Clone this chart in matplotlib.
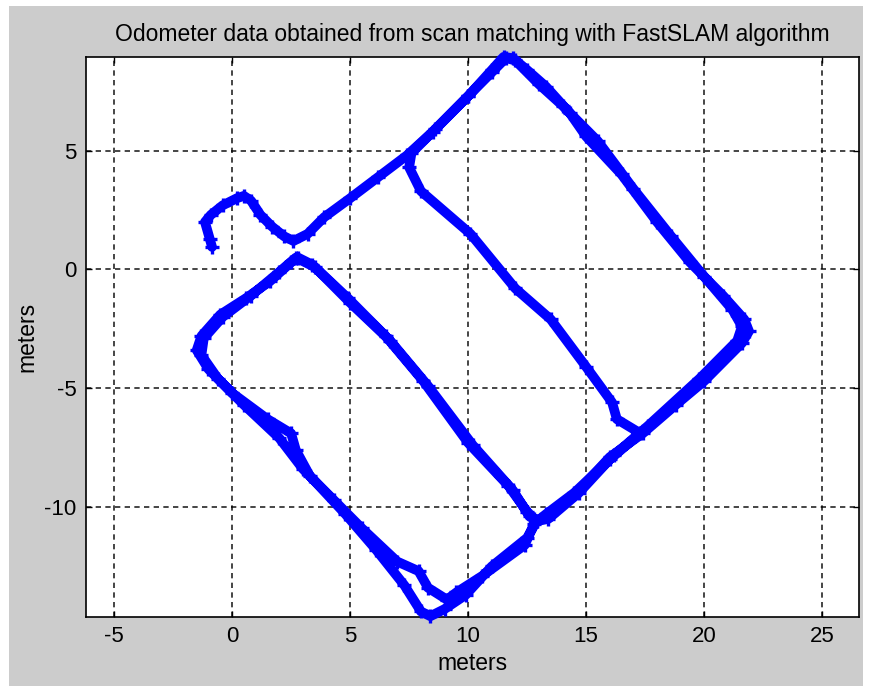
import matplotlib
matplotlib.use("Agg")
import matplotlib.pyplot as plt
from matplotlib.patches import Rectangle

# Trajectory estimated by scan matching (metres)
path_x = [
    # start and first pass up the north-west side
    -0.85, -0.95, -1.15, -0.9, -0.4, 0.2, 0.5, 0.8, 1.2, 1.7, 2.2, 2.6,
    3.2, 3.9, 5.0, 6.2, 7.4, 8.5, 10.0, 11.0, 11.5, 11.9,
    # north-east side, first pass
    12.5, 13.3, 14.3, 15.0, 16.5, 18.0, 19.4, 20.8, 21.7, 21.9, 21.6,
    # south-east side, first pass
    20.0, 18.8, 17.4, 16.0, 14.7, 13.5, 12.9, 12.5, 11.0, 9.9, 9.0, 8.4, 8.0,
    # south-west side, first pass
    7.3, 6.1, 4.8, 3.3, 2.7, 2.5, 1.5, 0.0, -1.0, -1.5, -1.3, -0.5, 0.6, 1.6, 2.5, 2.8, 3.4,
    # first middle corridor
    4.9, 6.5, 8.1, 10.0, 11.7, 12.5, 12.9, 13.4,
    14.7, 16.0, 17.3,
    # second middle corridor
    16.3, 16.1, 15.0, 13.5, 12.0, 10.1, 8.0, 7.5, 7.6,
    8.6, 10.0, 11.0, 11.6, 12.0,
    # north-east side, second pass
    13.0, 14.0, 15.5, 17.0, 18.6, 20.0, 21.2, 21.6, 21.4,
    # south-east side, second pass
    19.8, 17.6, 16.2, 14.5, 13.3, 12.8, 12.4, 10.6, 9.5, 9.1,
    # south-west side, second pass
    8.3, 7.9, 7.0, 5.5, 4.3, 3.0, 2.0, 0.5, -0.6, -1.3, -1.2, -0.4, 0.8, 2.0, 2.7, 3.5,
    # first middle corridor, second pass
    5.0, 6.7, 8.3, 10.2, 11.9, 12.6, 12.8,
]
path_y = [
    0.95, 1.3, 2.0, 2.3, 2.7, 3.0, 3.1, 2.9, 2.3, 1.8, 1.4, 1.2,
    1.5, 2.2, 3.0, 3.9, 4.8, 5.8, 7.3, 8.4, 8.95, 8.9,
    8.4, 7.7, 6.6, 5.6, 4.0, 2.0, 0.3, -1.1, -2.1, -2.6, -3.1,
    -4.7, -5.7, -6.9, -7.9, -9.3, -10.3, -10.6, -11.3, -12.5, -13.7, -14.3, -14.6, -14.4,
    -13.3, -11.8, -10.3, -8.7, -7.6, -6.9, -6.3, -5.2, -4.2, -3.4, -2.8, -1.9, -1.2, -0.5, 0.3, 0.5, 0.2,
    -1.2, -2.8, -4.7, -7.3, -9.1, -10.2, -10.6, -10.5,
    -9.4, -8.0, -6.9,
    -6.3, -5.6, -4.1, -2.1, -0.8, 1.5, 3.3, 4.3, 4.9,
    5.9, 7.3, 8.3, 8.9, 8.8,
    7.8, 6.9, 5.4, 3.4, 1.4, -0.3, -1.7, -2.4, -3.0,
    -4.6, -6.6, -7.8, -9.4, -10.3, -10.7, -11.6, -12.9, -13.6, -13.9,
    -13.4, -12.7, -12.3, -10.9, -9.7, -8.4, -7.1, -5.7, -4.6, -3.6, -2.9, -2.0, -1.1, -0.1, 0.5, 0.1,
    -1.4, -3.0, -4.9, -7.4, -9.3, -10.4, -10.5,
]

x_ticks = [-5, 0, 5, 10, 15, 20, 25]
y_ticks = [-10, -5, 0, 5]

plt.rcParams['font.family'] = ['Liberation Sans', 'DejaVu Sans']
plt.rcParams['axes.unicode_minus'] = False

fig = plt.figure(figsize=(8.75, 6.86), dpi=100, facecolor='white')
# grey figure panel
fig.patches.append(Rectangle((9 / 875, 0), (863 - 9) / 875, (686 - 6) / 686,
                             transform=fig.transFigure, facecolor='#cccccc',
                             edgecolor='none', zorder=-10))

ax = fig.add_axes([86 / 875, (686 - 616.7) / 686, (859 - 86) / 875, (616.7 - 56.7) / 686])
ax.set_facecolor('white')

ax.plot(path_x, path_y, color='#0000ff', lw=7, solid_joinstyle='round',
        solid_capstyle='round', marker='+', ms=10, mew=2.4, clip_on=False, zorder=3)

ax.set_xlim(-6.19, 26.56)
ax.set_ylim(-14.62, 8.96)
ax.set_xticks(x_ticks)
ax.set_yticks(y_ticks)
ax.grid(True, color='black', linestyle=(0, (3.2, 2.6)), lw=1.2, alpha=0.85)
ax.set_axisbelow(True)
ax.tick_params(direction='in', length=4, width=1, labelsize=16, pad=7,
               top=True, right=True, colors='black')
for s in ax.spines.values():
    s.set_linewidth(1.2)
    s.set_color('black')

ax.set_title('Odometer data obtained from scan matching with FastSLAM algorithm',
             fontsize=16.5, pad=11)
ax.set_xlabel('meters', fontsize=16.5, labelpad=3)
ax.set_ylabel('meters', fontsize=16.5, labelpad=4)

fig.savefig('out.png', dpi=100, facecolor=fig.get_facecolor())
